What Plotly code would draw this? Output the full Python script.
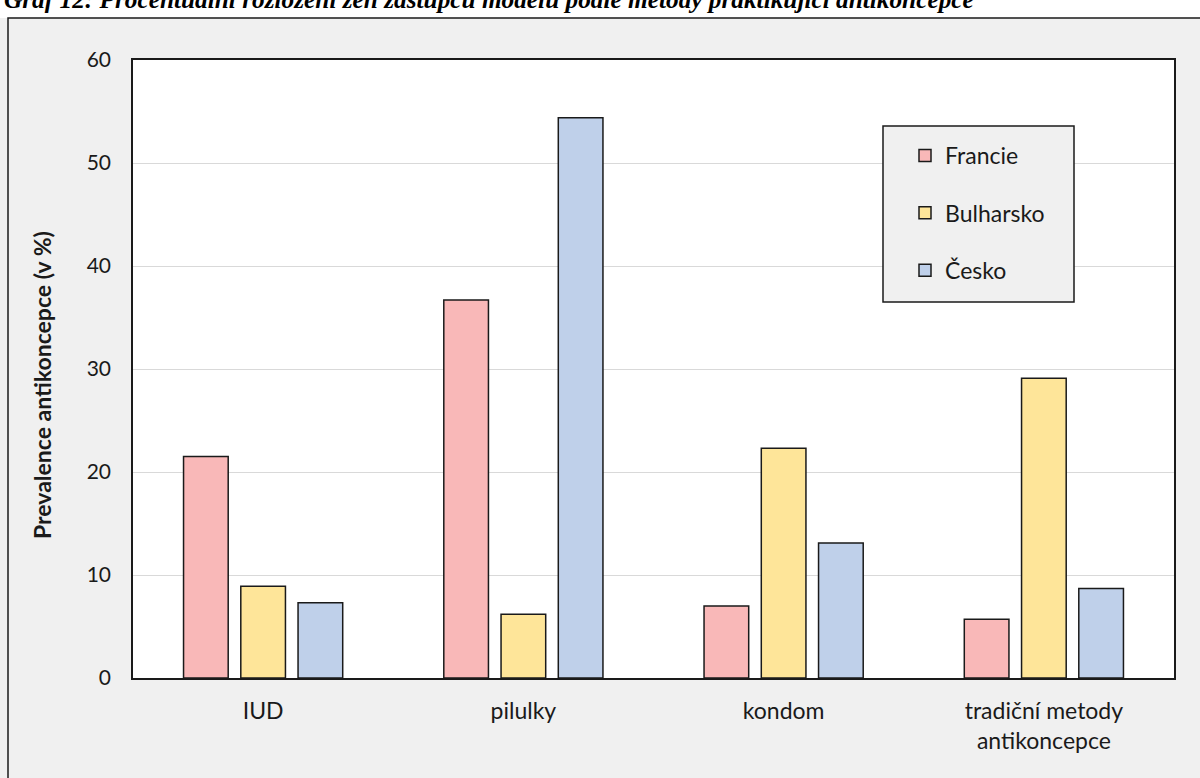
import plotly.graph_objects as go

# Metody antikoncepce a prevalence podle země (v %)
metody = ["IUD", "pilulky", "kondom", "tradiční metody<br>antikoncepce"]
francie = [21.5, 36.7, 7.0, 5.7]
bulharsko = [8.9, 6.2, 22.3, 29.1]
cesko = [7.3, 54.4, 13.1, 8.7]

y_ticks = [0, 10, 20, 30, 40, 50, 60]

W, H = 1200, 778
L, R, T, B = 133, 26, 60, 100
pw, ph = W - L - R, H - T - B


def px(x):
    return (x - L) / pw


def py(y):
    return (H - B - y) / ph


FONT = "Lato, 'Open Sans', sans-serif"

fig = go.Figure()
series = [
    ("Francie", francie, "#f9b8b8"),
    ("Bulharsko", bulharsko, "#fee599"),
    ("Česko", cesko, "#bfd0ea"),
]
for i, (name, vals, col) in enumerate(series):
    fig.add_trace(go.Bar(
        x=metody, y=vals, name=name, legendgroup=name,
        marker=dict(color=col, line=dict(color="#1a1a1a", width=1.5)),
    ))

fig.update_layout(
    width=W, height=H,
    margin=dict(l=L, r=R, t=T, b=B),
    paper_bgcolor="#f0f0f0",
    plot_bgcolor="white",
    barmode="group",
    bargap=0.34,
    bargroupgap=0.22,
    font=dict(family=FONT, size=23, color="#1a1a1a"),
    showlegend=True,
    legend=dict(
        x=px(905), y=py(134), xanchor="left", yanchor="top",
        bgcolor="rgba(0,0,0,0)", borderwidth=0,
        traceorder="grouped", tracegroupgap=24.5,
        font=dict(family=FONT, size=23, color="#1a1a1a"),
    ),
    xaxis=dict(
        showline=True, linecolor="#1a1a1a", linewidth=1.5, mirror=True,
        ticks="outside", ticklen=12, tickcolor="rgba(0,0,0,0)",
        showgrid=False,
        tickfont=dict(family=FONT, size=23),
    ),
    yaxis=dict(
        range=[0, 60], tickvals=y_ticks,
        showline=True, linecolor="#1a1a1a", linewidth=1.5, mirror=True,
        showgrid=True, gridcolor="#d9d9d9", gridwidth=1.2,
        ticks="outside", ticklen=16, tickcolor="rgba(0,0,0,0)",
        zeroline=False,
        tickfont=dict(family=FONT, size=21),
    ),
    shapes=[
        # bílý pruh nad rámečkem grafu
        dict(type="rect", xref="paper", yref="paper", layer="below",
             x0=px(-20), x1=px(W + 20), y0=py(18), y1=py(-20),
             fillcolor="white", line=dict(width=0)),
        # vnější rámeček
        dict(type="rect", xref="paper", yref="paper", layer="below",
             x0=px(8), x1=px(W + 20), y0=py(18), y1=py(H + 20),
             fillcolor="rgba(0,0,0,0)", line=dict(color="#1a1a1a", width=1.5)),
        # rámeček legendy
        dict(type="rect", xref="paper", yref="paper", layer="above",
             x0=px(883), x1=px(1074), y0=py(126), y1=py(302),
             fillcolor="#f0f0f0", line=dict(color="#1a1a1a", width=1.5)),
    ],
    annotations=[
        dict(text="<b>Prevalence antikoncepce (v %)</b>", textangle=-90,
             xref="paper", yref="paper", x=px(42), y=py(385),
             xanchor="center", yanchor="middle", showarrow=False,
             font=dict(family=FONT, size=23, color="#1a1a1a")),
        dict(text="<b><i>Graf 12: Procentuální rozložení žen zástupců modelu podle metody praktikující antikoncepce</i></b>",
             xref="paper", yref="paper", x=px(2), y=py(15),
             xanchor="left", yanchor="bottom", showarrow=False,
             font=dict(family="'Liberation Serif', serif", size=25.3, color="black")),
    ],
)

fig.write_html("out.html")
